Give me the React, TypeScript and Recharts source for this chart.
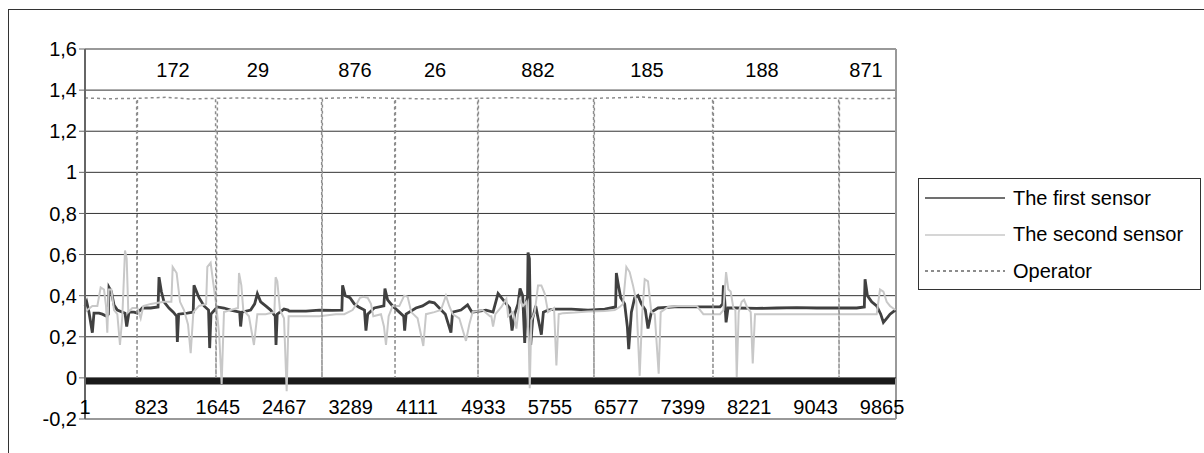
// Sensor readings vs operator switches, Excel-style line chart
import {
  LineChart,
  Line,
  XAxis,
  YAxis,
  ReferenceLine,
  ReferenceArea,
  ReferenceDot,
  Legend,
} from 'recharts'

const FONT = '"Liberation Sans", Arial, sans-serif'
const X_MAX = 10038

const xTicks = [1, 823, 1645, 2467, 3289, 4111, 4933, 5755, 6577, 7399, 8221, 9043, 9865]
const yTicks = [-0.2, 0, 0.2, 0.4, 0.6, 0.8, 1, 1.2, 1.4, 1.6]
const gridValues = [0.2, 0.4, 0.6, 0.8, 1, 1.2, 1.4]
const seriesNames = ['The first sensor', 'The second sensor', 'Operator']

// numbers printed above each operator segment
const operatorCodes = ['172', '29', '876', '26', '882', '185', '188', '871']
const operatorCodeAt = [1090, 2142, 3343, 4333, 5607, 6957, 8380, 9667]

// [sample, value]
const sensor1: [number, number][] = [
  [1, 0.35], [22, 0.37], [50, 0.32], [92, 0.22], [112, 0.315], [174, 0.315], [215, 0.31],
  [269, 0.3], [290, 0.31], [298, 0.44], [327, 0.42], [360, 0.355], [401, 0.33], [496, 0.315],
  [517, 0.25], [546, 0.32], [607, 0.32], [649, 0.315], [710, 0.34], [814, 0.34], [905, 0.345],
  [917, 0.49], [946, 0.42], [979, 0.37], [1040, 0.34], [1094, 0.32], [1135, 0.3],
  [1144, 0.175], [1160, 0.31], [1267, 0.315], [1340, 0.32], [1350, 0.45], [1412, 0.39],
  [1474, 0.35], [1530, 0.33], [1544, 0.145], [1560, 0.31], [1639, 0.345], [1721, 0.34],
  [1804, 0.33], [1915, 0.32], [1927, 0.25], [1945, 0.32], [2051, 0.33], [2101, 0.36],
  [2134, 0.41], [2175, 0.37], [2237, 0.35], [2299, 0.33], [2355, 0.3], [2365, 0.16],
  [2380, 0.31], [2464, 0.335], [2513, 0.33], [2529, 0.325], [2736, 0.325], [2901, 0.33],
  [3066, 0.328], [3180, 0.33], [3189, 0.45], [3222, 0.4], [3280, 0.39], [3334, 0.36],
  [3387, 0.345], [3460, 0.33], [3478, 0.23], [3500, 0.31], [3581, 0.34], [3700, 0.35],
  [3713, 0.435], [3746, 0.38], [3808, 0.35], [3891, 0.32], [3945, 0.3], [3957, 0.23],
  [3975, 0.31], [4097, 0.34], [4179, 0.35], [4262, 0.37], [4324, 0.365], [4386, 0.34],
  [4460, 0.31], [4530, 0.22], [4550, 0.32], [4654, 0.33], [4736, 0.355], [4790, 0.32],
  [4881, 0.325], [4963, 0.33], [5051, 0.32], [5113, 0.41], [5154, 0.39], [5216, 0.36],
  [5257, 0.34], [5286, 0.23], [5319, 0.31], [5360, 0.36], [5385, 0.435], [5418, 0.4],
  [5443, 0.17], [5463, 0.37], [5478, 0.4], [5484, 0.61], [5501, 0.58], [5517, 0.16],
  [5542, 0.29], [5579, 0.35], [5608, 0.29], [5649, 0.21], [5674, 0.32], [5732, 0.33],
  [5814, 0.335], [6020, 0.335], [6227, 0.33], [6433, 0.335], [6568, 0.345], [6577, 0.51],
  [6598, 0.46], [6631, 0.39], [6680, 0.36], [6713, 0.25], [6730, 0.14], [6763, 0.32],
  [6804, 0.39], [6845, 0.4], [6887, 0.36], [6936, 0.33], [6969, 0.24], [7010, 0.32],
  [7093, 0.34], [7299, 0.345], [7505, 0.345], [7654, 0.345], [7860, 0.345], [7893, 0.36],
  [7902, 0.45], [7918, 0.38], [7935, 0.27], [7959, 0.34], [8067, 0.34], [8314, 0.338],
  [8562, 0.34], [8809, 0.342], [9057, 0.34], [9304, 0.34], [9552, 0.34], [9646, 0.345],
  [9655, 0.48], [9684, 0.4], [9737, 0.37], [9799, 0.35], [9849, 0.31], [9882, 0.27],
  [9923, 0.29], [9964, 0.31], [10030, 0.33],
]

const sensor2: [number, number][] = [
  [1, 0.32], [30, 0.33], [92, 0.35], [154, 0.35], [195, 0.44], [236, 0.43], [261, 0.35],
  [277, 0.22], [294, 0.43], [327, 0.43], [360, 0.33], [401, 0.31], [434, 0.16], [463, 0.3],
  [484, 0.5], [496, 0.62], [517, 0.58], [537, 0.32], [587, 0.34], [649, 0.34], [690, 0.29],
  [723, 0.35], [814, 0.36], [979, 0.37], [1070, 0.37], [1086, 0.54], [1135, 0.51],
  [1177, 0.37], [1226, 0.33], [1276, 0.26], [1309, 0.12], [1342, 0.32], [1412, 0.35],
  [1500, 0.36], [1515, 0.54], [1556, 0.56], [1589, 0.46], [1630, 0.34], [1663, 0.2],
  [1692, -0.03], [1721, 0.32], [1804, 0.33], [1895, 0.34], [1907, 0.51], [1936, 0.45],
  [1960, 0.33], [2030, 0.3], [2092, 0.16], [2134, 0.31], [2237, 0.31], [2345, 0.32],
  [2360, 0.49], [2381, 0.47], [2414, 0.33], [2464, 0.29], [2497, -0.065], [2521, 0.3],
  [2653, 0.3], [2901, 0.3], [3107, 0.31], [3210, 0.31], [3313, 0.33], [3363, 0.36],
  [3404, 0.39], [3445, 0.395], [3499, 0.39], [3540, 0.36], [3569, 0.3], [3664, 0.31],
  [3701, 0.25], [3726, 0.16], [3759, 0.3], [3808, 0.35], [3891, 0.35], [3952, 0.4],
  [3994, 0.395], [4039, 0.32], [4117, 0.29], [4188, 0.155], [4221, 0.31], [4324, 0.32],
  [4406, 0.33], [4468, 0.4], [4509, 0.35], [4551, 0.31], [4633, 0.29], [4716, 0.18],
  [4757, 0.26], [4798, 0.32], [4922, 0.33], [5013, 0.3], [5030, 0.3], [5051, 0.25],
  [5080, 0.31], [5154, 0.345], [5216, 0.385], [5237, 0.3], [5298, 0.32], [5340, 0.24],
  [5381, 0.38], [5422, 0.35], [5463, 0.37], [5492, 0.2], [5505, -0.05], [5525, 0.28],
  [5567, 0.32], [5608, 0.45], [5649, 0.45], [5690, 0.41], [5732, 0.32], [5806, 0.34],
  [5835, 0.06], [5864, 0.31], [5917, 0.315], [6062, 0.318], [6227, 0.323], [6433, 0.325],
  [6557, 0.33], [6618, 0.345], [6660, 0.36], [6701, 0.54], [6742, 0.515], [6783, 0.45],
  [6825, 0.37], [6866, 0.01], [6895, 0.3], [6928, 0.48], [6969, 0.47], [7010, 0.32],
  [7052, 0.31], [7101, 0.02], [7126, 0.32], [7217, 0.345], [7340, 0.35], [7505, 0.35],
  [7572, 0.35], [7654, 0.31], [7860, 0.31], [7902, 0.33], [7935, 0.515], [7963, 0.43],
  [7992, 0.42], [8025, 0.34], [8050, 0.33], [8067, 0.005], [8091, 0.32], [8128, 0.37],
  [8157, 0.38], [8199, 0.34], [8240, 0.32], [8265, 0.07], [8293, 0.31], [8520, 0.31],
  [8850, 0.31], [9222, 0.31], [9552, 0.31], [9799, 0.31], [9840, 0.43], [9882, 0.42],
  [9923, 0.37], [9964, 0.35], [10030, 0.33],
]

const operator: [number, number][] = [
  [1, 1.362], [300, 1.358], [640, 1.36], [645, 0], [650, 1.36], [1000, 1.365], [1300, 1.357],
  [1617, 1.36], [1622, 0], [1640, 1.36], [2000, 1.362], [2500, 1.357], [2929, 1.36],
  [2934, 0], [2939, 1.36], [3400, 1.364], [3833, 1.36], [3838, 0], [3843, 1.36],
  [4300, 1.357], [4860, 1.36], [4865, 0], [4870, 1.36], [5300, 1.363], [5900, 1.357],
  [6295, 1.36], [6300, 0], [6305, 1.36], [6900, 1.366], [7300, 1.358], [7768, 1.36],
  [7773, 0], [7778, 1.36], [8500, 1.362], [9328, 1.36], [9333, 0], [9338, 1.36],
  [9700, 1.358], [10038, 1.36],
]

const toRows = (pts: [number, number][]) => pts.map(([x, y]) => ({ x, y }))

const fmtY = (v: number) => String(v).replace('.', ',')

function XTick({ x, y, payload }: any) {
  // Excel puts the category labels just under the 0 axis, inside the plot
  return (
    <text x={x} y={y - 13} textAnchor="middle" fontSize={20} fill="#000" fontFamily={FONT}>
      {payload.value}
    </text>
  )
}

function LegendBox({ payload }: any) {
  const items = [...(payload || [])].sort(
    (a: any, b: any) => seriesNames.indexOf(a.value) - seriesNames.indexOf(b.value),
  )
  return (
    <div style={{
      border: '1px solid #333',
      background: '#fff',
      width: 283,
      height: 112,
      paddingTop: 1,
      boxSizing: 'border-box',
      fontFamily: FONT,
      fontSize: 20,
      color: '#000',
    }}>
      {items.map((e: any, i: number) => (
        <div key={i} style={{ display: 'flex', alignItems: 'center', height: 36.5, paddingLeft: 6 }}>
          <svg width={80} height={10} style={{ flex: 'none' }}>
            <line
              x1={0} x2={80} y1={5} y2={5}
              stroke={e.color}
              strokeWidth={e.payload?.strokeDasharray ? 2 : 1.5}
              strokeDasharray={e.payload?.strokeDasharray}
            />
          </svg>
          <span style={{ marginLeft: 8, whiteSpace: 'nowrap' }}>{e.value}</span>
        </div>
      ))}
    </div>
  )
}

export default function App() {
  return (
    <div style={{ position: 'relative', width: 1204, height: 453, overflow: 'hidden', background: '#fff' }}>
      <style>{'body{margin:0}'}</style>
      <div style={{
        position: 'absolute', left: 8, top: 9, right: -2, bottom: -2,
        borderTop: '1px solid #333', borderLeft: '1px solid #333', pointerEvents: 'none',
      }} />
      <LineChart width={1204} height={453} margin={{ top: 49, right: 308, bottom: 0, left: 25 }}>
        <XAxis
          dataKey="x"
          type="number"
          domain={[1, X_MAX]}
          ticks={xTicks}
          interval={0}
          height={34}
          tickLine={false}
          axisLine={{ stroke: '#999', strokeWidth: 2 }}
          tick={<XTick />}
        />
        <YAxis
          type="number"
          domain={[-0.2, 1.6]}
          ticks={yTicks}
          interval={0}
          width={60}
          tickFormatter={fmtY}
          axisLine={{ stroke: '#666', strokeWidth: 2 }}
          tickLine={{ stroke: '#666' }}
          tick={{ fontSize: 20, fill: '#000', fontFamily: FONT }}
        />
        {gridValues.map((v) => (
          <ReferenceLine key={v} y={v} stroke="#333" strokeWidth={1} />
        ))}
        <ReferenceLine y={1.6} stroke="#999" strokeWidth={2} />
        <ReferenceLine x={X_MAX} stroke="#999" strokeWidth={2} />
        {/* dense category tick marks hanging under the 0 axis */}
        <ReferenceArea y1={-0.032} y2={0} fill="#1a1a1a" fillOpacity={1} stroke="none" />
        <ReferenceLine y={0} stroke="#222" strokeWidth={1} />
        {operatorCodes.map((c, i) => (
          <ReferenceDot
            key={c + i}
            x={operatorCodeAt[i]}
            y={1.5}
            r={0}
            stroke="none"
            label={{ value: c, position: 'center', fontSize: 20, fill: '#000', fontFamily: FONT }}
          />
        ))}
        <Legend
          layout="horizontal"
          align="center"
          verticalAlign="middle"
          wrapperStyle={{ left: 918, top: 178, width: 290 }}
          content={<LegendBox />}
        />
        <Line
          data={toRows(sensor1)}
          dataKey="y"
          name="The first sensor"
          stroke="#404040"
          strokeWidth={2.8}
          dot={false}
          activeDot={false}
          isAnimationActive={false}
        />
        <Line
          data={toRows(sensor2)}
          dataKey="y"
          name="The second sensor"
          stroke="#c8c8c8"
          strokeWidth={2}
          dot={false}
          activeDot={false}
          isAnimationActive={false}
        />
        <Line
          data={toRows(operator)}
          dataKey="y"
          name="Operator"
          stroke="#8c8c8c"
          strokeWidth={1.5}
          strokeDasharray="3 3"
          dot={false}
          activeDot={false}
          isAnimationActive={false}
        />
      </LineChart>
    </div>
  )
}
